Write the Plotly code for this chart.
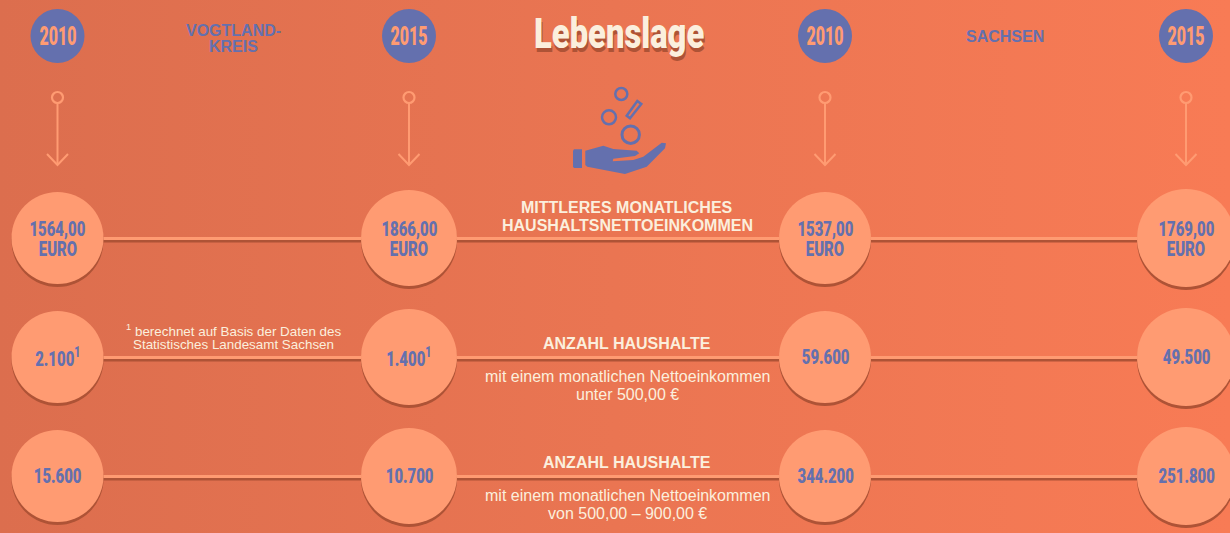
import plotly.graph_objects as go

# ---------- data ----------
column_years = ["2010", "2015", "2010", "2015"]
row1_line1 = ["1564,00", "1866,00", "1537,00", "1769,00"]
row1_line2 = ["EURO", "EURO", "EURO", "EURO"]
row2_values = ["2.100<sup>1</sup>", "1.400<sup>1</sup>", "59.600", "49.500"]
row3_values = ["15.600", "10.700", "344.200", "251.800"]
region_labels = [["VOGTLAND-", "KREIS"], ["SACHSEN"]]
title_text = "Lebenslage"
row1_caption = ["MITTLERES MONATLICHES", "HAUSHALTSNETTOEINKOMMEN"]
row_heading = "ANZAHL HAUSHALTE"
row2_caption = ["mit einem monatlichen Nettoeinkommen", "unter 500,00 €"]
row3_caption = ["mit einem monatlichen Nettoeinkommen", "von 500,00 – 900,00 €"]
footnote = ["<sup>1</sup> berechnet auf Basis der Daten des", "Statistisches Landesamt Sachsen"]

# ---------- layout constants (pixels) ----------
W, H = 1230, 533
COL_X = [57.5, 409, 825, 1186]
ROW_Y = [238, 357, 476]
RADII = [[46, 48, 46, 49], [46, 48, 46, 49], [46, 48, 46, 49]]
BADGE_Y = 36
BADGE_R = 27
BLUE = "#6470AE"
PEACH = "#FF9B72"
CREAM = "#FBEFDD"
SHADOW = "#AE5336"
COND = "Roboto"
SANS = "Liberation Sans, Arial, sans-serif"

fig = go.Figure()

# background gradient
fig.add_trace(go.Scatter(
    x=[0, W, W, 0, 0], y=[0, 0, H, H, 0], mode="lines", line=dict(width=0),
    fill="toself", hoverinfo="skip", showlegend=False,
    fillgradient=dict(type="horizontal",
                      colorscale=[[0, "#DC6E4E"], [0.5, "#EA7552"], [1, "#F87B55"]]),
))


def line(xs, ys, color, width):
    fig.add_trace(go.Scatter(x=xs, y=ys, mode="lines", hoverinfo="skip", showlegend=False,
                             line=dict(color=color, width=width, simplify=False)))


def dots(xs, ys, sizes, color, lw=0, lc=None, fillc=None):
    fig.add_trace(go.Scatter(x=xs, y=ys, mode="markers", hoverinfo="skip", showlegend=False,
                             marker=dict(size=sizes, color=fillc or color, opacity=1,
                                         line=dict(width=lw, color=lc or color))))


def text(s, x, y, size, color, family=SANS, bold=False):
    font = dict(size=size, color=color, family=family)
    if family == COND:
        font.update(weight=900)
        body = s
    else:
        body = f"<b>{s}</b>" if bold else s
    fig.add_annotation(x=x, y=y, text=body, showarrow=False, font=font,
                       xanchor="center", yanchor="middle")


# connecting lines
for y in ROW_Y:
    for a, b in [(0, 1), (1, 2), (2, 3)]:
        line([COL_X[a], COL_X[b]], [y + 2.9, y + 2.9], SHADOW, 3)
        line([COL_X[a], COL_X[b]], [y + 0.5, y + 0.5], PEACH, 3)

# value circles
for r, y in zip(RADII, ROW_Y):
    dots(COL_X, [y + 3] * 4, [2 * v for v in r], SHADOW)
    dots(COL_X, [y] * 4, [2 * v for v in r], PEACH)

# year badges
dots(COL_X, [BADGE_Y] * 4, [2 * BADGE_R] * 4, BLUE)
for x, yr in zip(COL_X, column_years):
    text(yr, x, BADGE_Y, 25, PEACH, COND, True)

# arrows
for x in COL_X:
    line([x, x], [103, 165], PEACH, 2)
    line([x - 10.5, x, x + 10.5], [154, 165, 154], PEACH, 2)
dots(COL_X, [97.5] * 4, [11] * 4, PEACH, 2.2, PEACH, "rgba(0,0,0,0)")

# values
for x, a, b in zip(COL_X, row1_line1, row1_line2):
    text(a, x, 229, 21, BLUE, COND, True)
    text(b, x, 249, 21, BLUE, COND, True)
for x, v in zip(COL_X, row2_values):
    text(v, x, ROW_Y[1], 21, BLUE, COND, True)
for x, v in zip(COL_X, row3_values):
    text(v, x, ROW_Y[2], 21, BLUE, COND, True)

# region labels
text(region_labels[0][0], 233, 30, 16, BLUE, SANS, True)
text(region_labels[0][1], 233, 46, 16, BLUE, SANS, True)
text(region_labels[1][0], 1005, 36, 16, BLUE, SANS, True)

# title
text(title_text, 619.5, 37, 42, SHADOW, COND, True)
text(title_text, 618.5, 33, 42, CREAM, COND, True)

# captions
text(row1_caption[0], 627, 207, 16, CREAM, SANS, True)
text(row1_caption[1], 627, 225, 16, CREAM, SANS, True)
text(row_heading, 627, 343, 16, CREAM, SANS, True)
text(row2_caption[0], 627, 376, 16, CREAM)
text(row2_caption[1], 627, 394, 16, CREAM)
text(row_heading, 627, 462, 16, CREAM, SANS, True)
text(row3_caption[0], 627, 495, 16, CREAM)
text(row3_caption[1], 627, 513, 16, CREAM)
text(footnote[0], 233, 330, 13.4, CREAM)
text(footnote[1], 233, 344.5, 13.4, CREAM)


def to_svg(points):
    return "M" + " L".join(f"{500 + px / 3:.1f},{py / 3:.1f}" for px, py in points) + " Z"


hand = [(256, 452), (310, 437), (340, 447), (410, 452), (418, 460), (405, 468), (340, 476), (338, 484),
        (400, 480), (430, 470), (485, 428), (498, 430), (495, 445), (440, 500), (375, 522), (262, 500), (256, 495)]
wrist = [(222, 448), (246, 448), (246, 504), (222, 504), (219, 500), (219, 452)]
pill = [(380, 347), (412, 303), (424, 312), (390, 355)]
shapes = [
    dict(type="path", path=to_svg(hand), fillcolor=BLUE, line=dict(width=0)),
    dict(type="path", path=to_svg(wrist), fillcolor=BLUE, line=dict(width=0)),
    dict(type="path", path=to_svg(pill), fillcolor="rgba(0,0,0,0)", line=dict(width=2.5, color=BLUE)),
]
for cx, cy, r, lw in [(621.3, 94, 6, 2.5), (609, 117.3, 7, 2.5), (630.7, 134.7, 8.7, 3)]:
    shapes.append(dict(type="circle", x0=cx - r, x1=cx + r, y0=cy - r, y1=cy + r,
                       fillcolor="rgba(0,0,0,0)", line=dict(width=lw, color=BLUE)))

fig.update_layout(
    width=W, height=H, margin=dict(l=0, r=0, t=0, b=0), showlegend=False,
    paper_bgcolor="#EA7552", plot_bgcolor="#EA7552", shapes=shapes,
    xaxis=dict(range=[0, W], visible=False, fixedrange=True),
    yaxis=dict(range=[H, 0], visible=False, fixedrange=True),
)
POST = """
document.body.style.margin='0';document.body.style.overflow='hidden';
document.querySelectorAll('.annotation-text').forEach(function(t){
  if((t.style.fontFamily||'').indexOf('Roboto')>=0){
    var s=parseFloat(t.style.fontSize);
    var k=s>=40?0.78:(s>=24?0.64:0.71);
    t.style.transformBox='fill-box';t.style.transformOrigin='center';t.style.transform='scaleX('+k+')';
  }
});
"""
fig.write_html("out.html", config={"displayModeBar": False},
               default_width=f"{W}px", default_height=f"{H}px", post_script=POST)
